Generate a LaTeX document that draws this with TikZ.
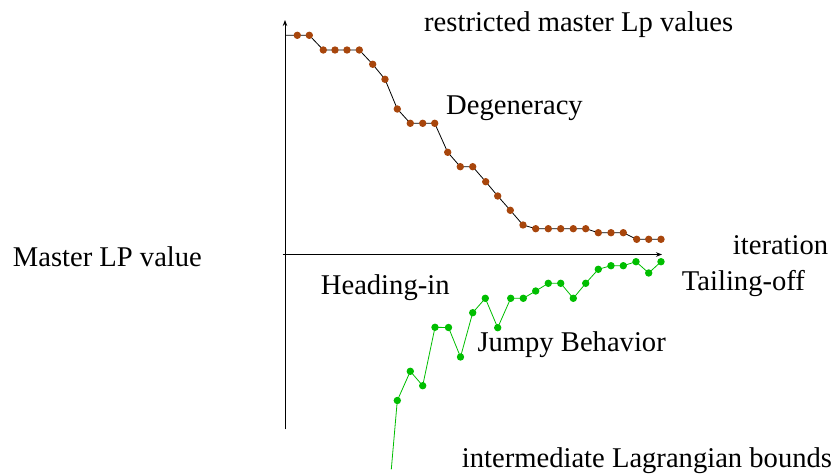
\documentclass[tikz,border=0pt]{standalone}
\usepackage{fontspec}
\setmainfont{Liberation Serif}
\usetikzlibrary{arrows.meta,backgrounds}
\definecolor{lpbrown}{RGB}{168,70,12}
\definecolor{laggreen}{RGB}{0,190,0}
\tikzset{
  label text/.style={inner sep=0pt, anchor=base west, font=\fontsize{28.6}{34}\selectfont},
  axis line/.style={black, line width=0.9pt, -{Stealth[length=6pt,width=4.5pt]}},
  brown dot/.style={circle, fill=lpbrown, inner sep=0pt, minimum size=7.4pt},
  green dot/.style={circle, fill=laggreen, inner sep=0pt, minimum size=7.4pt},
  master line/.style={black, line width=0.8pt, line join=round},
  bound line/.style={laggreen, line width=0.8pt, line join=round}
}
\begin{document}
\begin{tikzpicture}[x=1pt, y=-1pt]
\useasboundingbox (0,0) rectangle (838,476);

% axes
\coordinate (ybot) at (285,429.3);
\coordinate (ytop) at (285,20);
\coordinate (xleft) at (282.5,254.5);
\coordinate (xright) at (662,254.5);
\draw[axis line] (ybot) -- (ytop);
\draw[axis line] (xleft) -- (xright);

% restricted master LP values
\foreach \px/\py [count=\i] in {
  297.3/35.3, 309.3/35.3, 323.3/50, 335/50, 347/50, 359.3/50,
  372.7/64.3, 385/79.3, 397.3/109, 410.3/123.3, 422.7/123.3, 434.7/123.3,
  447.7/152.3, 460.3/166.7, 472.7/166.7, 485.7/181.7, 497.7/196, 510.3/210.3,
  523/225, 535.7/228.7, 548.3/228.7, 560.7/228.7, 573.3/228.7, 585.7/228.7,
  598.3/232.7, 611/232.7, 623.3/232.7, 636.7/239.3, 648.7/239.3, 661/239.3}
  \node[brown dot] (b\i) at (\px,\py) {};
\coordinate (bstart) at (285,35.3);
\begin{scope}[on background layer]
  \draw[master line] (bstart) \foreach \i in {1,...,30} { -- (b\i.center) };
\end{scope}

% intermediate Lagrangian bounds
\foreach \px/\py [count=\i] in {
  397.3/400.5, 410.3/371.3, 422.7/385.7, 435/327.3, 448.5/327.5, 460.5/357,
  472.7/312.7, 485.3/298.3, 497.7/327.7, 510.7/298.3, 523.3/298.3, 535.7/291,
  548.3/283.3, 560.7/283.3, 573.3/298.3, 585.7/283.3, 598.3/269.3, 611/265.7,
  623.3/265.7, 636/261.7, 648.7/273, 661/261.7}
  \node[green dot] (g\i) at (\px,\py) {};
\coordinate (gstart) at (391.3,469.3);
\begin{scope}[on background layer]
  \draw[bound line] (gstart) \foreach \i in {1,...,22} { -- (g\i.center) };
\end{scope}

% labels
\node[label text] (tmaster) at (424,31.7) {restricted master Lp values};
\node[label text] (tdegen) at (446,114.3) {Degeneracy};
\node[label text] (tylabel) at (12.7,266) {Master LP value};
\node[label text] (txlabel) at (732.7,254.3) {iteration};
\node[label text] (thead) at (320.7,294) {Heading-in};
\node[label text] (ttail) at (681.7,290) {Tailing-off};
\node[label text] (tjumpy) at (477.3,351.7) {Jumpy Behavior};
\node[label text] (tlagr) at (461.7,467.3) {intermediate Lagrangian bounds};
\end{tikzpicture}
\end{document}
